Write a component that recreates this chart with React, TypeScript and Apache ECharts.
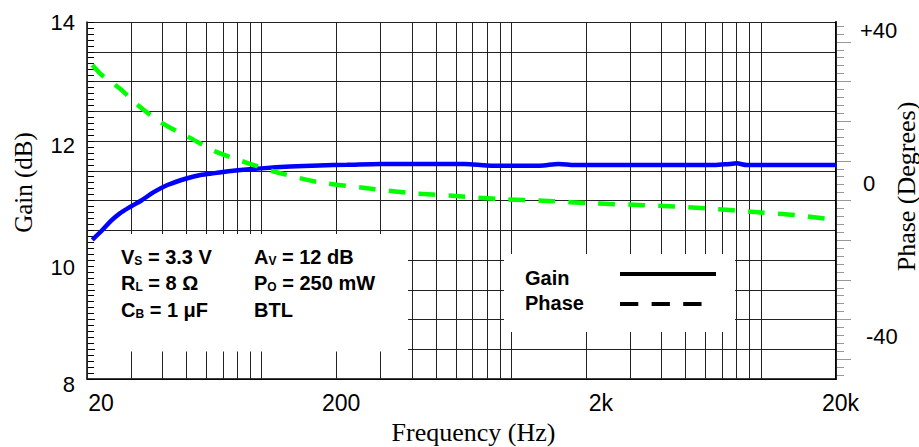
import React, { useEffect, useRef } from "react";
import * as echarts from "echarts";

// ---- data ----
const gainFreq = [21, 23, 25, 27, 30, 33, 37, 42, 50, 57, 65, 77, 100, 130, 170, 220, 300, 450, 650, 800, 1000, 1300, 1550, 1800, 2200, 4000, 6500, 7500, 8000, 8800, 12000, 20000];
const gainDb = [10.34, 10.5, 10.66, 10.78, 10.9, 11.0, 11.14, 11.26, 11.37, 11.43, 11.46, 11.5, 11.54, 11.57, 11.59, 11.6, 11.615, 11.615, 11.615, 11.59, 11.585, 11.585, 11.615, 11.595, 11.595, 11.595, 11.595, 11.615, 11.625, 11.595, 11.595, 11.595];
const phaseFreq = [21, 23, 27, 32, 40, 52, 66, 88, 115, 170, 260, 390, 600, 900, 1400, 2100, 3400, 6000, 10000, 14000, 20000];
const phaseDeg = [30.9, 28.2, 24.8, 20.4, 15.7, 11.8, 8.2, 5.3, 2.9, 0.3, -1.2, -2.5, -3.3, -4.1, -4.6, -5.2, -5.7, -6.5, -7.6, -8.3, -9.6];

const gridFreqs = [20, 30, 40, 50, 60, 70, 80, 90, 100, 200, 300, 400, 500, 600, 700, 800, 900, 1000, 2000, 3000, 4000, 5000, 6000, 7000, 8000, 9000, 10000, 20000];
const xTickFreqs = [20, 200, 2000, 20000];
const xTickLabels = ["20", "200", "2k", "20k"];
const gainLabelValues = [8, 10, 12, 14];
const phaseLabelValues = [-40, 0, 40];
const phaseLabelTexts = ["-40", "0", "+40"];
const phaseMajorTicks = [5, 15, 25, 35, 45, 55, 65, 75, 85];
const phaseMinorTicks = Array.from({ length: 45 }, (_, i) => 1 + i * 2);

const condLeft = [["V", "S", " = 3.3 V"], ["R", "L", " = 8 Ω"], ["C", "B", " = 1 μF"]];
const condRight = [["A", "V", " = 12 dB"], ["P", "O", " = 250 mW"], ["BTL", "", ""]];
const legendNames = ["Gain", "Phase"];

const LOG = (f: number) => Math.log10(f);

export default function App() {
  const ref = useRef<HTMLDivElement>(null);
  useEffect(() => {
    document.body.style.margin = "0";
    const chart = echarts.init(ref.current!, null, { renderer: "svg" });
    const sans = "'Liberation Sans', Arial, Helvetica, sans-serif";
    const serif = "'Liberation Serif', 'Times New Roman', serif";

    const xMin = LOG(xTickFreqs[0]);
    const xMax = LOG(xTickFreqs[xTickFreqs.length - 1]);

    const xPad = [28, 9, 29, 9];
    const xRich: any = {};
    xTickLabels.forEach((_, i) => {
      xRich["x" + i] = { fontSize: 23, fontFamily: sans, color: "#000", padding: [0, 0, 0, xPad[i]] };
    });
    const gPad: Record<number, number> = { 14: 0, 12: 8, 10: 14, 8: 10 };
    const gRich: any = {};
    gainLabelValues.forEach((v) => {
      gRich["g" + v] = { fontSize: 22, fontFamily: sans, color: "#000", padding: [gPad[v], 0, 0, 0] };
    });
    const pPad = [6, 3, 0];
    const pRich: any = {};
    phaseLabelValues.forEach((_, i) => {
      pRich["p" + i] = { fontSize: 22, fontFamily: sans, color: "#000", padding: [0, 0, 0, pPad[i]] };
    });

    const condRich = {
      m: { fontSize: 20, fontWeight: "bold", fontFamily: sans, fill: "#000", lineHeight: 20 },
      s: { fontSize: 12, fontWeight: "bold", fontFamily: sans, fill: "#000", lineHeight: 15, verticalAlign: "bottom" },
    };
    const condText = (row: string[]) =>
      row[1] ? `{m|${row[0]}}{s|${row[1]}}{m|${row[2]}}` : `{m|${row[0]}}`;
    const rowY = [256.7, 283.3, 310];

    const graphic: any[] = [
      { type: "rect", z: 1, shape: { x: 95, y: 234, width: 313, height: 117.5 }, style: { fill: "#fff" } },
      { type: "rect", z: 1, shape: { x: 504, y: 254, width: 231, height: 78 }, style: { fill: "#fff" } },
    ];
    condLeft.forEach((row, i) => {
      graphic.push({ type: "text", z: 5, x: 121, y: rowY[i], style: { text: condText(row), rich: condRich, align: "left", verticalAlign: "middle" } });
    });
    condRight.forEach((row, i) => {
      graphic.push({ type: "text", z: 5, x: 254, y: rowY[i], style: { text: condText(row), rich: condRich, align: "left", verticalAlign: "middle" } });
    });
    graphic.push(
      { type: "text", z: 5, x: 525, y: 277.5, style: { text: legendNames[0], font: `bold 20px ${sans}`, fill: "#000", align: "left", verticalAlign: "middle" } },
      { type: "text", z: 5, x: 525, y: 302.5, style: { text: legendNames[1], font: `bold 20px ${sans}`, fill: "#000", align: "left", verticalAlign: "middle" } },
      { type: "line", z: 5, shape: { x1: 620, y1: 274, x2: 716, y2: 274 }, style: { stroke: "#000", lineWidth: 4 } },
      { type: "line", z: 5, shape: { x1: 620, y1: 304, x2: 703, y2: 304 }, style: { stroke: "#000", lineWidth: 4, lineDash: [18.3, 13.3] } },
      { type: "text", z: 5, x: 23, y: 182.5, rotation: Math.PI / 2, style: { text: "Gain (dB)", font: `25px ${serif}`, fill: "#000", align: "center", verticalAlign: "middle" } },
      { type: "text", z: 5, x: 906, y: 186.5, rotation: Math.PI / 2, style: { text: "Phase (Degrees)", font: `26px ${serif}`, fill: "#000", align: "center", verticalAlign: "middle" } },
      { type: "text", z: 5, x: 473.5, y: 432, style: { text: "Frequency (Hz)", font: `26px ${serif}`, fill: "#000", align: "center", verticalAlign: "middle" } }
    );

    const gridVals = gridFreqs.map(LOG);

    chart.setOption({
      animation: false,
      grid: { left: 87, right: 83, top: 22, bottom: 68, containLabel: false, outerBoundsMode: "none" },
      xAxis: {
        type: "value",
        min: xMin,
        max: xMax,
        axisLine: { show: true, onZero: false, lineStyle: { color: "#000", width: 1.5 } },
        axisTick: { show: true, inside: true, length: 357, customValues: gridVals, lineStyle: { color: "#222", width: 1 } },
        splitLine: { show: false },
        axisLabel: {
          customValues: xTickFreqs.map(LOG),
          showMinLabel: true,
          showMaxLabel: true,
          margin: 12,
          formatter: (v: number) => {
            let best = 0;
            xTickFreqs.forEach((f, i) => {
              if (Math.abs(LOG(f) - v) < Math.abs(LOG(xTickFreqs[best]) - v)) best = i;
            });
            return `{x${best}|${xTickLabels[best]}}`;
          },
          rich: xRich,
        },
      },
      yAxis: [
        {
          type: "value",
          min: 8,
          max: 14,
          interval: 0.5,
          position: "left",
          axisLine: { show: true, onZero: false, lineStyle: { color: "#000", width: 1.5 } },
          axisTick: { show: true, inside: true, length: 7, lineStyle: { color: "#000" } },
          minorTick: { show: true, splitNumber: 5, length: 7, lineStyle: { color: "#000" } },
          splitLine: { show: true, lineStyle: { color: "#222", width: 1 } },
          axisLabel: {
            margin: 12,
            formatter: (v: number) => (gainLabelValues.indexOf(v) >= 0 ? `{g${v}|${v}}` : ""),
            rich: gRich,
          },
        },
        {
          type: "value",
          min: -51.03,
          max: 42.09,
          position: "right",
          axisLine: { show: true, onZero: false, lineStyle: { color: "#000", width: 2 } },
          axisTick: { show: false },
          splitLine: { show: false },
          axisLabel: {
            customValues: phaseLabelValues,
            align: "left",
            margin: 24,
            formatter: (v: number) => {
              const i = phaseLabelValues.indexOf(Math.round(v));
              return i >= 0 ? `{p${i}|${phaseLabelTexts[i]}}` : "";
            },
            rich: pRich,
          },
        },
        {
          type: "value",
          min: 0,
          max: 90,
          position: "right",
          axisLine: { show: false, onZero: false },
          axisTick: { show: true, customValues: phaseMajorTicks, length: 15, lineStyle: { color: "#999", width: 1 } },
          splitLine: { show: false },
          axisLabel: { show: false },
        },
        {
          type: "value",
          min: 0,
          max: 90,
          position: "right",
          axisLine: { show: false, onZero: false },
          axisTick: { show: true, customValues: phaseMinorTicks, length: 8, lineStyle: { color: "#999", width: 1 } },
          splitLine: { show: false },
          axisLabel: { show: false },
        },
      ],
      series: [
        {
          type: "line",
          name: "Gain",
          yAxisIndex: 0,
          data: gainFreq.map((f, i) => [LOG(f), gainDb[i]]),
          showSymbol: false,
          smooth: 0.3,
          z: 3,
          lineStyle: { color: "#0000ff", width: 4.5 },
        },
        {
          type: "line",
          name: "Phase",
          yAxisIndex: 1,
          data: phaseFreq.map((f, i) => [LOG(f), phaseDeg[i]]),
          showSymbol: false,
          smooth: 0.3,
          z: 3,
          lineStyle: { color: "#00ff00", width: 4.5, type: [16.7, 13.3], cap: "butt" },
        },
      ],
      graphic,
    });
    return () => chart.dispose();
  }, []);
  return <div ref={ref} style={{ position: "absolute", left: 0, top: 0, width: 919, height: 447 }} />;
}
